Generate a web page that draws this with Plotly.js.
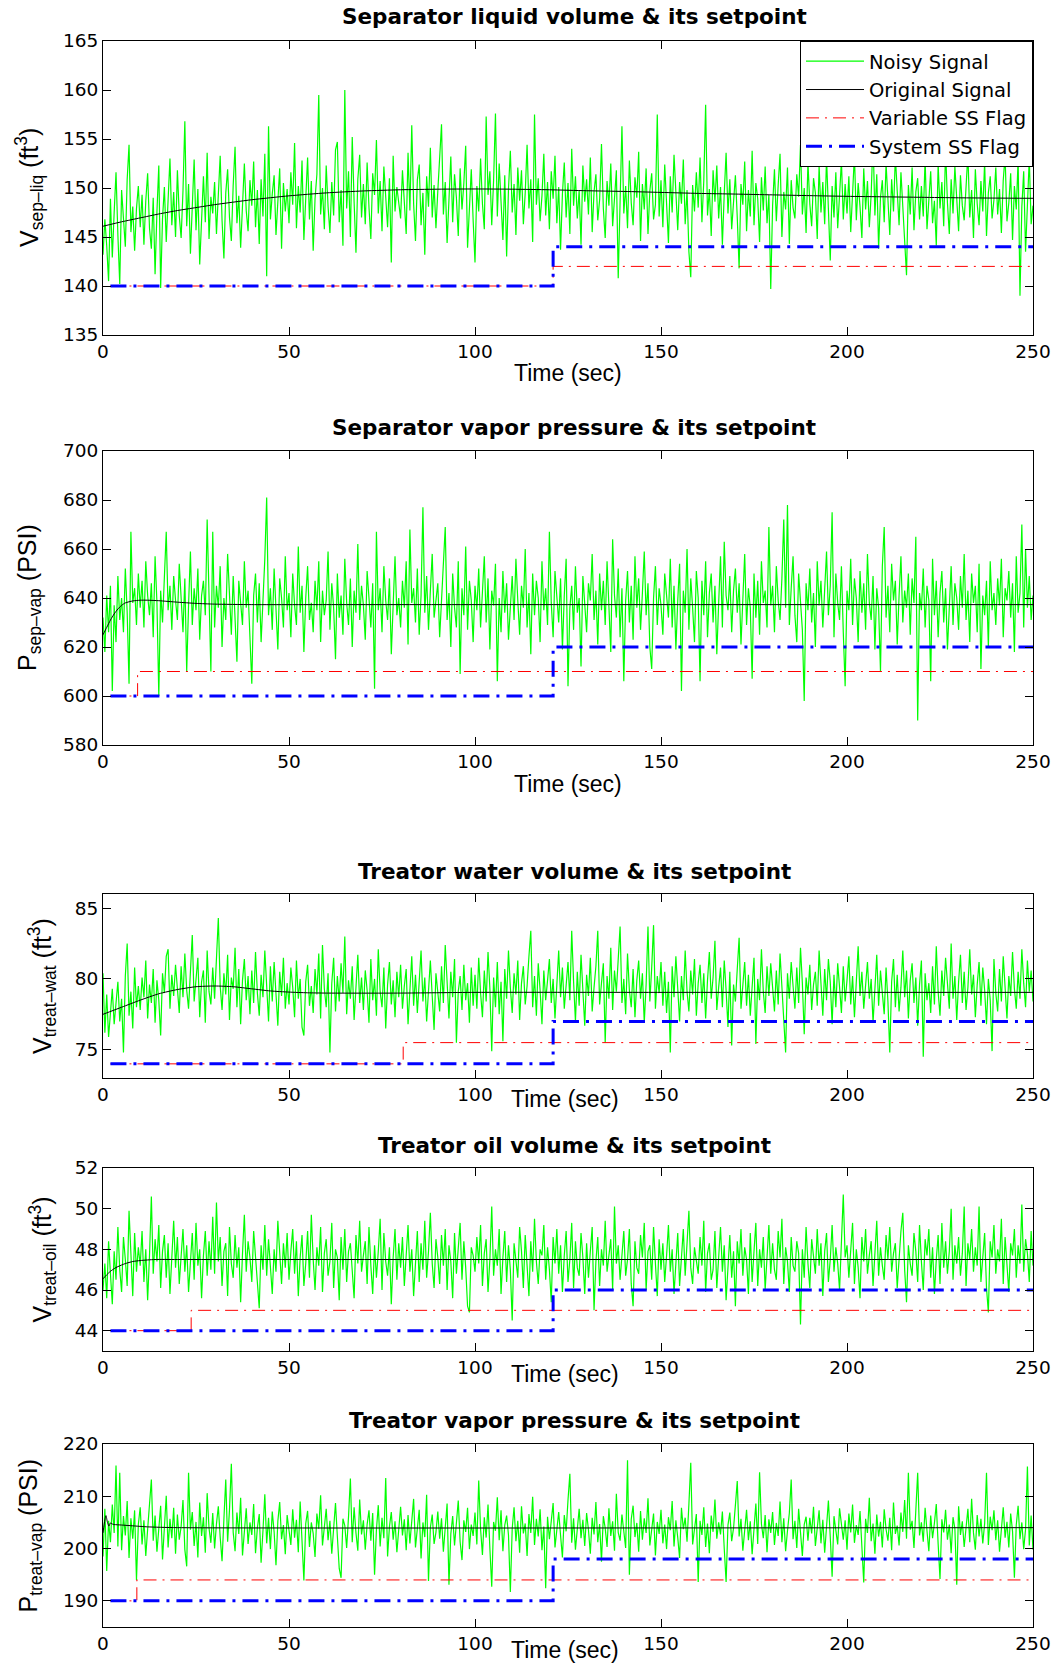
<!DOCTYPE html>
<html><head><meta charset="utf-8">
<script src="https://cdn.plot.ly/plotly-3.0.1.min.js"></script>
<style>html,body{margin:0;padding:0;background:#fff}#chart{width:1062px;height:1664px}</style>
</head><body><div id="chart"></div>
<script>
// ---------------- DATA ----------------
const timeStart = 0, timeEnd = 250; // seconds, noisy signals sampled evenly over this span

// Panel 1: Separator liquid volume (ft^3)
const sepLiqNoisy = [
143.2,146.8,144.1,140.5,148.9,142.9,147.5,151.6,145.2,140.2,149.8,146.3,144.0,150.9,154.4,145.5,148.1,143.6,147.9,150.2,
146.0,149.3,144.2,148.7,151.5,145.9,143.8,149.0,141.2,147.6,152.3,139.8,146.9,150.1,144.5,148.8,153.0,146.2,149.6,145.0,
151.8,147.2,144.9,149.7,156.8,146.1,150.4,143.3,148.6,152.9,145.7,149.9,142.2,147.8,151.2,146.5,153.6,144.8,149.1,147.4,
150.6,145.3,148.9,153.3,146.7,142.8,149.5,151.9,147.0,144.6,150.3,154.2,146.4,149.2,143.9,148.0,152.5,147.7,145.6,150.8,
148.2,152.7,146.0,149.8,144.3,150.9,147.1,153.5,141.0,156.3,146.8,149.4,151.3,145.2,148.7,152.0,143.8,150.5,147.6,149.9,
146.4,151.6,148.3,154.6,145.9,150.2,147.5,152.8,144.7,149.6,153.1,146.8,150.7,143.6,148.9,151.4,159.5,147.3,150.0,145.8,
152.3,148.1,145.4,150.6,147.2,153.9,154.7,146.5,149.8,144.1,160.0,147.9,151.7,145.0,155.2,148.6,143.4,150.9,153.4,147.0,
150.4,146.3,152.6,148.0,144.8,151.5,149.3,154.9,147.4,150.7,145.6,152.2,148.8,146.0,151.0,142.4,153.3,147.6,150.1,148.5,
146.9,151.8,149.0,145.3,153.6,147.7,156.4,148.4,144.6,150.8,152.4,146.2,149.5,143.2,151.2,148.1,154.1,147.0,150.3,145.9,
149.7,152.9,156.5,147.3,150.6,144.4,148.9,153.2,146.5,151.4,149.0,145.1,152.0,147.8,150.5,154.3,143.9,148.6,151.9,146.7,
142.4,150.2,147.6,153.0,148.4,145.8,157.3,149.3,151.7,146.2,150.8,157.6,147.1,152.5,148.0,144.7,151.3,143.0,149.9,153.8,
147.5,150.4,145.2,152.1,148.7,151.8,146.3,149.5,154.4,147.9,150.9,144.5,157.5,148.3,151.0,146.6,149.2,153.5,147.2,150.6,
145.8,151.7,148.9,153.3,146.4,150.1,143.7,149.4,152.6,147.0,150.5,145.3,154.0,148.2,151.2,146.9,149.8,144.2,152.3,148.6,
150.9,147.3,153.1,145.5,149.6,151.4,146.7,148.8,154.5,147.9,144.9,150.7,148.2,152.5,146.1,149.3,151.8,140.8,148.7,156.3,
147.4,150.2,145.9,152.8,148.5,146.2,151.1,149.0,153.7,144.6,150.4,147.8,152.0,145.3,149.7,151.5,146.8,148.3,157.5,147.1,
150.8,146.0,152.4,148.1,144.4,151.2,147.5,153.4,149.2,145.7,150.6,148.4,152.9,146.3,149.8,143.5,140.9,150.3,147.6,151.6,
148.0,153.1,146.5,150.7,158.5,147.2,149.9,145.1,151.8,148.6,152.3,146.9,150.1,144.2,149.4,153.6,147.4,150.9,145.8,149.0,
151.3,147.0,141.8,150.4,148.3,152.7,145.6,149.8,147.1,153.8,146.2,150.5,148.9,144.5,151.1,147.7,152.2,146.4,149.3,139.7,
148.2,151.9,146.6,150.3,153.5,145.0,149.6,147.8,152.1,144.3,150.8,148.0,146.9,151.4,149.1,154.4,147.3,150.0,145.4,152.6,
148.4,146.1,151.0,149.5,144.8,152.3,147.5,150.6,146.3,153.1,148.7,142.6,150.2,147.0,151.6,145.9,149.3,152.8,146.8,150.4,
147.4,151.2,145.5,149.9,153.4,146.7,150.5,148.1,144.9,152.0,147.8,150.7,146.0,149.4,155.1,147.2,151.4,143.8,149.0,150.8,
146.5,152.5,148.3,145.2,150.9,147.6,153.2,149.1,146.2,151.6,148.0,144.4,141.1,150.3,147.3,152.1,145.7,149.6,151.0,146.8,
150.2,147.1,153.0,145.8,149.3,151.7,146.4,148.7,144.1,152.4,147.9,150.6,146.1,154.0,148.5,145.3,150.9,147.4,152.2,149.0,
145.6,151.3,148.2,146.7,150.4,153.5,147.0,149.8,144.9,151.9,148.4,146.2,150.7,147.6,152.7,145.1,149.5,151.2,146.9,148.8,
152.1,147.3,149.9,145.4,150.8,153.3,146.6,148.5,151.5,144.7,150.2,147.8,152.9,139.0,148.1,151.7,143.5,149.4,153.0,146.3,
148.2];
const sepLiqOrigTime = [0,5,10,15,20,25,30,40,50,60,70,80,90,100,110,120,130,140,150,160,170,180,190,200,210,220,230,240,250];
const sepLiqOrig = [146.1,146.55,146.95,147.35,147.7,148.0,148.3,148.8,149.2,149.5,149.7,149.82,149.88,149.9,149.88,149.82,149.72,149.65,149.55,149.45,149.38,149.3,149.22,149.15,149.1,149.05,149.0,148.97,148.95];
const sepLiqVarFlagTime = [2,121,250];
const sepLiqVarFlag = [140,142,142];
const sepLiqSysFlagTime = [2,121,250];
const sepLiqSysFlag = [140,144,144];

// Panel 2: Separator vapor pressure (PSI)
const sepVapNoisy = [
632,618,641,626,645,602,637,622,649,631,640,626,652,634,605,667,638,644,629,650,
636,647,628,655,641,633,646,624,657,638,600,643,630,651,667,635,645,627,649,639,
631,654,642,626,648,610,637,659,629,644,635,652,623,641,647,633,672,639,610,667,
628,645,636,653,620,640,631,658,642,625,649,634,614,647,638,629,655,636,643,624,
605,641,650,630,646,622,639,656,681,633,644,627,652,636,619,648,640,628,657,635,
642,624,650,637,629,661,634,645,618,640,653,631,638,626,647,635,655,622,643,633,
639,659,627,646,636,615,650,632,641,625,656,638,629,648,620,643,634,662,631,645,
637,623,651,640,628,646,603,667,635,644,626,653,639,631,648,617,642,657,633,640,
628,647,636,655,621,668,638,644,630,652,625,641,677,634,649,627,643,658,632,639,
646,624,638,653,669,631,642,620,650,636,628,655,609,644,633,661,627,647,639,622,
645,635,652,628,641,657,630,648,619,643,637,654,606,640,626,651,634,646,623,638,
649,631,656,639,625,645,636,660,628,642,617,650,633,647,640,622,655,635,644,629,
667,638,624,651,642,630,648,619,641,656,604,636,645,627,653,634,640,612,649,637,
626,646,639,658,631,643,621,650,635,647,629,655,638,618,664,641,632,652,624,644,
606,639,651,630,645,623,657,636,648,627,642,659,633,646,620,611,640,653,629,644,
637,625,650,641,632,656,628,645,619,639,654,602,643,634,660,627,648,636,622,651,
640,606,647,633,655,624,642,650,630,645,617,638,657,628,663,641,635,649,626,643,
652,634,646,621,640,658,629,644,636,607,650,632,647,625,655,638,643,628,669,637,
645,626,653,639,631,648,672,636,678,629,644,657,633,622,650,640,627,598,646,635,
652,630,642,620,655,637,647,628,641,659,633,645,675,624,650,638,631,653,626,604,
643,635,656,629,648,640,622,651,634,646,627,658,638,631,649,619,644,636,610,653,
669,632,645,626,654,639,647,621,641,657,630,643,636,650,625,648,638,665,590,642,
635,652,628,645,639,606,656,633,647,624,642,651,630,644,619,637,653,629,646,640,
627,649,636,658,631,643,622,650,638,645,626,654,611,641,633,647,620,655,635,642,
629,648,637,656,624,644,639,651,632,646,618,657,634,642,670,628,660,636,649,631,
641];
const sepVapOrigTime = [0,1,2,3,4,5,6,8,10,12,15,20,25,30,40,60,100,150,200,250];
const sepVapOrig = [625,628,631,633.5,635.5,637,638,638.8,639.1,639.1,638.9,638.3,637.8,637.5,637.3,637.3,637.3,637.3,637.3,637.3];
const sepVapVarFlagTime = [2,9.3,250];
const sepVapVarFlag = [600,610,610];
const sepVapSysFlagTime = [2,121,250];
const sepVapSysFlag = [600,620,620];

// Panel 3: Treator water volume (ft^3)
const treatWatNoisy = [
80.4,76.2,78.9,75.9,77.6,79.3,76.8,78.1,79.8,77.0,78.6,74.8,80.2,82.5,77.4,79.1,76.5,80.8,78.0,79.5,
77.8,80.1,78.7,81.3,77.2,79.6,78.3,80.7,76.9,79.9,78.5,76.0,80.4,79.0,81.6,82.1,77.9,80.3,78.8,81.0,
79.4,77.6,80.9,78.7,81.8,79.2,77.9,80.5,83.1,78.4,80.0,81.5,77.3,79.8,80.6,76.9,82.0,79.1,78.2,80.8,
78.6,81.2,84.3,79.5,77.8,80.4,78.9,81.7,77.1,80.1,79.3,82.2,78.0,80.7,76.8,79.9,81.4,78.5,80.2,77.5,
80.6,78.3,81.9,79.0,77.4,80.3,78.7,82.0,79.6,77.0,80.9,78.4,81.2,79.1,76.7,80.5,78.8,81.5,77.9,79.7,
78.2,80.8,79.4,77.3,81.3,78.6,80.0,76.6,76.0,79.8,81.0,78.1,79.5,77.6,80.7,78.9,81.8,77.2,82.4,79.3,
78.0,80.4,74.8,79.7,81.5,77.7,80.2,78.4,81.1,79.0,83.0,77.5,79.9,78.6,80.9,77.1,79.4,81.7,78.3,80.1,
77.8,80.6,79.2,76.9,81.4,78.5,80.0,77.4,82.1,79.1,78.0,80.8,76.5,79.6,81.2,78.2,79.9,77.3,80.5,78.7,
81.0,77.9,79.5,80.7,76.8,79.0,81.6,78.1,80.3,77.6,79.8,82.0,78.4,80.1,77.0,79.3,81.3,78.8,76.4,80.4,
79.2,77.7,80.9,78.3,82.4,79.6,77.2,80.5,78.7,81.4,75.5,79.1,80.2,77.8,81.0,78.5,79.7,76.9,80.8,78.1,
80.3,77.9,81.5,79.0,77.3,80.6,78.4,81.9,79.3,74.9,80.1,78.0,81.2,77.5,79.8,75.6,80.7,78.6,82.0,79.4,
77.6,80.4,78.9,81.3,77.1,79.7,80.9,78.2,79.5,81.6,83.4,78.0,80.2,77.4,81.1,79.2,76.8,80.6,78.5,79.9,
81.4,78.3,80.0,77.2,79.6,82.0,78.7,80.8,77.9,79.3,81.2,78.5,83.4,79.8,77.0,80.5,78.1,81.7,79.0,76.7,
80.3,78.8,81.5,77.7,79.4,80.9,83.4,78.2,79.7,81.1,75.5,80.2,78.6,82.2,77.8,80.6,79.1,81.4,83.7,78.3,
80.0,77.5,81.8,79.2,78.0,80.7,77.3,79.9,81.3,78.6,80.4,76.9,79.6,83.7,78.4,80.8,83.8,77.9,80.2,79.0,
81.2,78.1,80.5,77.6,79.8,74.8,80.9,78.7,81.6,79.3,77.0,80.2,78.5,82.0,79.1,77.7,80.6,78.9,81.4,77.4,
79.7,81.0,78.3,80.4,77.2,79.9,81.9,78.6,80.1,82.7,77.8,79.4,80.8,78.0,81.3,79.2,76.6,80.5,75.3,79.6,
78.4,80.7,82.9,77.9,79.5,81.2,78.1,80.3,77.4,79.8,81.5,75.4,80.0,78.5,82.1,79.1,77.6,80.9,78.8,81.1,
79.3,77.7,80.6,78.2,81.8,79.0,77.1,74.8,80.4,78.6,81.2,79.5,77.9,80.8,78.3,82.2,79.7,76.1,80.1,78.9,
81.0,77.8,79.6,80.5,78.1,82.0,79.2,77.4,80.7,78.5,81.4,79.8,76.8,80.3,78.0,81.1,79.4,77.6,80.9,78.4,
79.9,81.6,78.2,80.2,77.3,79.7,82.3,78.8,80.5,77.9,79.3,81.2,78.6,80.0,76.9,79.5,81.7,78.1,80.6,79.0,
77.5,80.8,78.4,74.8,79.8,81.4,78.0,80.3,77.7,79.4,82.0,78.7,80.6,77.2,79.9,81.1,78.3,80.1,76.7,79.6,
81.3,74.5,80.4,78.5,79.7,77.6,80.9,78.2,82.3,79.1,77.4,80.6,78.8,81.5,79.3,77.9,82.5,78.6,80.2,77.1,
79.8,81.7,78.3,80.5,77.8,79.4,82.1,78.9,80.3,77.3,79.6,81.2,78.1,80.8,79.2,76.8,80.0,78.5,74.9,81.4,
79.0,77.7,80.7,78.4,81.6,79.5,77.2,80.2,78.8,81.9,79.3,77.9,80.5,78.6,82.1,79.7,78.0,81.3,79.1,80.6,
78.4];
const treatWatOrigTime = [0,5,10,15,20,25,30,35,40,45,50,55,60,80,100,150,200,250];
const treatWatOrig = [77.5,78.0,78.5,78.95,79.25,79.45,79.5,79.45,79.3,79.15,79.07,79.02,79.0,79.0,79.05,79.05,79.05,79.05];
const treatWatVarFlagTime = [2,80.7,250];
const treatWatVarFlag = [74,75.5,75.5];
const treatWatSysFlagTime = [2,121,250];
const treatWatSysFlag = [74,77,77];

// Panel 4: Treator oil volume (ft^3)
const treatOilNoisy = [
46.0,47.3,45.6,48.4,46.8,45.3,47.9,46.5,49.1,47.0,45.9,48.6,47.5,46.2,49.9,47.8,45.7,48.8,46.9,48.1,
47.2,48.9,46.4,48.0,45.5,47.7,50.6,46.8,48.5,47.4,49.2,46.1,47.9,48.7,46.6,48.3,45.8,47.6,49.4,47.1,
48.6,46.3,47.8,49.0,46.9,48.2,45.9,47.5,48.8,46.5,49.3,47.2,48.0,45.6,47.7,48.9,46.7,48.4,47.0,49.6,
46.8,50.3,47.4,48.6,46.2,47.9,48.3,45.7,49.1,47.3,46.6,48.7,47.1,48.1,45.4,47.8,49.7,46.9,48.4,47.6,
46.4,48.9,47.5,46.0,45.1,48.2,47.0,49.2,46.7,48.5,47.3,45.8,48.0,46.9,49.4,47.7,46.3,48.3,47.1,48.8,
46.5,47.9,49.0,46.8,48.4,45.7,47.6,48.7,46.2,47.3,48.9,46.6,49.7,47.5,46.0,48.1,47.2,49.1,45.9,47.8,
48.5,46.7,47.4,49.3,46.1,48.0,47.6,45.5,48.6,47.0,49.0,46.4,47.9,48.3,46.8,45.6,48.7,47.3,49.4,46.9,
47.7,48.4,46.3,49.1,47.2,45.8,48.2,46.6,47.9,49.5,46.0,48.8,47.4,46.7,48.1,45.3,47.6,49.0,46.5,48.3,
47.1,48.6,46.2,47.8,49.2,46.9,48.0,45.7,47.5,48.9,46.4,48.3,47.0,49.4,46.6,47.9,49.8,47.3,46.1,48.5,
47.6,46.3,48.7,47.2,49.0,46.0,48.2,47.4,45.6,48.8,46.8,47.9,49.3,46.5,48.4,47.1,45.2,44.9,48.1,47.7,
46.9,48.6,47.3,49.2,46.2,47.8,48.5,45.9,47.5,50.1,46.7,48.0,47.2,49.0,45.8,47.6,48.9,46.4,48.2,47.0,
44.5,48.3,47.5,46.6,49.1,47.9,46.1,48.7,47.2,45.7,48.4,46.9,49.5,47.4,46.3,48.0,47.7,49.2,46.5,48.1,
47.0,45.4,48.6,47.3,49.0,46.8,48.2,45.9,47.7,48.9,46.4,47.5,49.3,46.1,48.4,47.1,46.7,48.8,47.6,45.8,
48.3,46.6,47.9,49.1,45.0,47.4,48.6,46.2,48.0,47.2,49.4,46.9,47.7,48.5,46.0,50.1,47.3,48.2,46.5,47.8,
48.9,46.7,47.5,49.0,46.3,45.2,48.4,47.1,46.8,48.7,47.6,49.3,46.0,47.9,48.2,46.5,49.1,47.3,45.7,48.5,
47.0,48.3,46.4,47.7,49.2,46.9,48.0,45.8,47.4,48.8,46.2,47.6,49.0,46.7,48.5,49.9,47.1,46.3,48.1,47.5,
46.8,48.6,47.2,49.4,45.9,47.8,48.3,46.5,47.0,48.9,46.1,47.6,49.1,46.9,48.2,45.5,47.4,48.7,46.6,47.9,
45.2,48.4,47.3,49.0,46.7,48.1,47.5,45.8,48.8,46.4,47.9,49.3,46.2,48.0,47.1,48.6,46.0,47.7,49.2,46.8,
48.3,47.0,46.5,48.9,47.6,49.5,46.3,48.1,47.4,45.9,48.6,47.2,46.9,48.4,47.8,44.3,48.0,46.6,49.1,47.3,
46.1,48.5,47.7,46.8,49.0,47.2,48.3,45.7,47.9,48.8,46.4,47.5,49.2,46.9,48.1,47.3,46.0,48.7,50.7,47.6,
48.2,46.6,47.8,49.3,46.3,48.0,47.1,45.6,48.6,47.4,49.0,46.8,47.7,48.4,46.2,47.9,49.4,46.7,48.1,47.2,
46.5,48.7,47.5,49.1,46.9,47.8,48.3,46.1,47.6,48.9,49.8,47.0,45.4,48.2,47.3,46.7,48.8,47.9,46.4,49.2,
47.4,46.0,48.5,47.7,49.0,46.6,48.1,45.8,47.5,48.7,46.3,49.3,47.1,48.4,46.8,47.9,50.0,46.5,48.2,47.3,
48.6,46.7,47.8,50.1,46.2,48.3,47.5,49.0,46.9,48.1,47.2,50.1,46.4,47.7,48.8,46.1,44.9,48.4,47.6,49.2,
46.8,48.0,47.4,49.5,46.3,48.6,47.1,45.9,48.3,47.7,49.0,46.6,48.2,47.3,50.2,46.9,48.5,47.8,46.4,48.9,
47.2];
const treatOilOrigTime = [0,1,2,3,4,6,8,10,14,20,250];
const treatOilOrig = [46.55,46.75,46.92,47.05,47.15,47.3,47.4,47.45,47.5,47.5,47.5];
const treatOilVarFlagTime = [2,23.7,250];
const treatOilVarFlag = [44,45,45];
const treatOilSysFlagTime = [2,121,250];
const treatOilSysFlag = [44,46,46];

// Panel 5: Treator vapor pressure (PSI)
const treatVapNoisy = [
198.5,207.6,195.7,205.3,201.2,208.4,203.0,215.9,200.4,214.5,199.7,206.2,202.5,209.1,198.2,205.8,201.9,207.3,194.0,204.6,
207.9,200.8,205.4,198.6,203.7,209.6,213.2,201.5,206.3,199.4,204.9,208.2,197.9,203.3,210.1,200.2,205.7,202.0,207.8,199.0,
206.5,201.7,204.2,209.3,199.8,196.6,214.5,203.6,207.0,200.5,205.1,198.3,208.8,202.4,206.0,199.2,210.6,203.9,201.1,206.8,
200.0,204.7,208.1,202.2,197.6,205.6,213.2,201.3,207.4,216.2,203.1,199.5,206.9,202.8,209.7,198.7,204.3,207.7,200.9,205.0,
202.6,208.5,199.1,204.0,206.6,197.3,203.4,210.4,201.0,205.9,199.9,207.1,203.2,196.8,205.2,208.9,201.8,204.5,198.9,206.4,
203.5,200.7,207.5,202.1,205.5,199.3,209.0,201.4,193.9,204.8,207.2,200.3,205.0,202.9,198.4,206.7,203.8,210.2,200.6,204.1,
207.6,201.6,205.3,199.0,203.9,208.7,202.3,196.2,194.4,205.7,204.4,200.1,206.1,213.4,201.2,207.9,203.0,199.6,209.4,202.7,
205.4,199.8,204.6,207.3,201.5,206.8,195.0,203.6,208.3,200.4,205.9,202.0,213.5,198.5,204.2,207.0,201.7,205.2,199.3,203.8,
208.0,202.5,205.6,199.7,206.4,201.0,204.7,209.5,200.2,203.5,207.4,198.1,205.0,202.2,210.3,193.8,204.0,206.5,200.9,203.1,
207.1,201.9,205.8,199.4,204.3,208.6,193.1,202.8,206.2,200.6,204.9,209.2,201.3,197.8,205.4,203.2,207.8,199.9,204.6,202.4,
206.9,200.8,213.0,203.7,198.8,206.0,202.1,208.4,200.0,192.7,205.1,203.4,209.8,201.6,207.3,199.5,204.5,206.3,202.6,191.7,
203.8,207.9,201.4,205.3,199.2,208.1,202.9,204.8,198.6,206.6,203.0,209.9,200.7,205.7,202.3,207.5,199.7,204.2,192.4,206.1,
201.8,205.0,208.7,200.2,204.4,207.0,202.5,198.3,206.4,203.3,209.3,214.3,201.1,205.8,199.8,204.0,207.6,202.0,205.5,200.5,
206.8,203.6,199.0,205.9,202.7,208.9,201.2,204.7,197.5,206.2,203.9,200.3,207.7,202.4,205.2,199.6,210.5,203.1,201.5,206.5,
203.4,200.1,216.9,195.0,205.6,208.2,202.2,204.9,199.4,207.2,201.7,205.8,203.0,209.6,200.6,204.3,206.7,198.7,205.1,202.8,
207.4,201.0,204.6,199.9,206.0,203.5,209.1,200.4,205.4,202.1,198.2,207.8,203.7,205.9,201.3,208.5,216.4,200.8,204.1,206.6,
193.6,205.3,202.6,207.9,200.3,204.8,199.1,206.3,203.2,209.4,201.9,205.0,202.7,207.1,200.0,193.6,204.5,206.9,201.4,203.9,
208.3,212.9,202.3,205.7,199.6,204.2,207.4,201.6,205.2,198.9,203.6,208.6,200.9,214.6,204.7,202.0,206.4,199.3,205.6,203.0,
207.0,200.7,204.9,202.4,209.0,201.2,205.8,199.5,203.4,206.8,213.2,201.8,205.3,200.1,207.6,203.3,198.6,204.6,206.1,201.5,
205.9,202.9,208.0,200.5,204.3,207.3,201.0,205.5,199.2,203.8,209.2,202.2,194.6,206.2,203.5,200.8,207.7,204.0,201.7,205.4,
199.8,206.7,203.1,208.4,201.1,204.5,202.6,207.2,200.4,193.5,205.7,203.0,209.7,201.4,204.8,199.0,206.5,202.3,205.1,200.2,
207.5,203.7,201.5,205.9,199.7,208.8,202.8,204.4,200.6,206.9,203.2,209.3,201.9,214.5,203.6,205.3,200.1,207.0,214.5,202.5,
205.0,201.3,207.8,203.4,199.5,206.3,202.0,204.9,208.5,200.9,194.2,205.6,203.1,207.4,201.7,204.6,199.1,206.0,203.8,193.1,
208.1,202.6,205.2,200.3,204.1,207.6,201.2,209.5,203.0,199.8,206.4,202.3,205.7,201.0,204.8,214.5,200.7,206.1,203.5,207.3,
201.6,205.4,199.4,203.9,207.9,202.1,205.1,200.2,206.7,203.3,194.4,204.5,208.2,201.8,205.0,199.9,203.7,215.7,200.6,206.3,
199.8];
const treatVapOrigTime = [0,0.5,0.8,1.2,1.6,2.0,2.5,3,5,8,12,20,250];
const treatVapOrig = [203,205.5,206.3,205,204.3,204.9,204.7,204.6,204.5,204.35,204.15,204.0,204.0];
const treatVapVarFlagTime = [2,9.1,250];
const treatVapVarFlag = [190,194,194];
const treatVapSysFlagTime = [2,121,250];
const treatVapSysFlag = [190,198,198];

// Text
const panelTitles = [
  'Separator liquid volume &amp; its setpoint',
  'Separator vapor pressure &amp; its setpoint',
  'Treator water volume &amp; its setpoint',
  'Treator oil volume &amp; its setpoint',
  'Treator vapor pressure &amp; its setpoint'
];
const yLabels = [
  'V<sub>sep\u2013liq</sub> (ft<sup>3</sup>)',
  'P<sub>sep\u2013vap</sub> (PSI)',
  'V<sub>treat\u2013wat</sub> (ft<sup>3</sup>)',
  'V<sub>treat\u2013oil</sub> (ft<sup>3</sup>)',
  'P<sub>treat\u2013vap</sub> (PSI)'
];
const xLabel = 'Time (sec)';
const seriesNames = ['Noisy Signal','Original Signal','Variable SS Flag','System SS Flag'];
const yRanges = [[135,165],[580,700],[73,86],[43,52],[185,220]];
const yTickStart = [135,580,75,44,190];
const yTickStep = [5,20,5,2,10];
const xTickVals = [0,50,100,150,200,250];

// ---------------- LAYOUT (pixel geometry) ----------------
const W = 1062, H = 1664;
const FONT = '"Liberation Sans", Arial, Helvetica, sans-serif';
const WIDEFONT = '"DejaVu Sans", Verdana, sans-serif';
const plotLeft = 103, plotRight = 1033;
const plotTops = [41, 451, 894, 1168, 1444];
const plotBottoms = [335, 745, 1078, 1351, 1627];
const titleY = [17, 428, 871, 1145, 1420];
const xLabelPos = [[568,373],[568,784],[565,1099],[565,1374],[565,1650]];
const yLabelX = [29, 29, 42, 42, 29];

const panels = [
  {noisy: sepLiqNoisy, ot: sepLiqOrigTime, o: sepLiqOrig, vt: sepLiqVarFlagTime, v: sepLiqVarFlag, st: sepLiqSysFlagTime, s: sepLiqSysFlag},
  {noisy: sepVapNoisy, ot: sepVapOrigTime, o: sepVapOrig, vt: sepVapVarFlagTime, v: sepVapVarFlag, st: sepVapSysFlagTime, s: sepVapSysFlag},
  {noisy: treatWatNoisy, ot: treatWatOrigTime, o: treatWatOrig, vt: treatWatVarFlagTime, v: treatWatVarFlag, st: treatWatSysFlagTime, s: treatWatSysFlag},
  {noisy: treatOilNoisy, ot: treatOilOrigTime, o: treatOilOrig, vt: treatOilVarFlagTime, v: treatOilVarFlag, st: treatOilSysFlagTime, s: treatOilSysFlag},
  {noisy: treatVapNoisy, ot: treatVapOrigTime, o: treatVapOrig, vt: treatVapVarFlagTime, v: treatVapVarFlag, st: treatVapSysFlagTime, s: treatVapSysFlag}
];

const px = x => x / W;
const py = y => 1 - y / H;

const traces = [];
const layout = {
  width: W, height: H,
  margin: {l: 0, r: 0, t: 0, b: 0, pad: 0},
  paper_bgcolor: '#fff', plot_bgcolor: '#fff',
  showlegend: true,
  hovermode: false,
  font: {family: FONT, color: '#000', size: 19},
  legend: {
    x: px(plotRight), xanchor: 'right', y: py(plotTops[0]), yanchor: 'top',
    xref: 'paper', yref: 'paper',
    bgcolor: '#fff', bordercolor: '#000', borderwidth: 1,
    font: {family: WIDEFONT, size: 19.5, color: '#000'},
    itemwidth: 58, tracegroupgap: 0, traceorder: 'normal'
  },
  annotations: []
};

panels.forEach((p, i) => {
  const n = i + 1;
  const xa = n === 1 ? 'x' : 'x' + n;
  const ya = n === 1 ? 'y' : 'y' + n;
  const N = p.noisy.length;
  const tNoisy = p.noisy.map((_, k) => timeStart + k * (timeEnd - timeStart) / (N - 1));
  const show = (i === 0);
  traces.push({x: tNoisy, y: p.noisy, xaxis: xa, yaxis: ya, type: 'scatter', mode: 'lines',
    name: seriesNames[0], showlegend: show, line: {color: '#00ff00', width: 1.2}});
  traces.push({x: p.ot, y: p.o, xaxis: xa, yaxis: ya, type: 'scatter', mode: 'lines',
    name: seriesNames[1], showlegend: show, line: {color: '#000000', width: 1, shape: 'spline', smoothing: 0.6}});
  traces.push({x: p.vt, y: p.v, xaxis: xa, yaxis: ya, type: 'scatter', mode: 'lines',
    name: seriesNames[2], showlegend: show, line: {color: '#ff0000', width: 1, shape: 'hv', dash: '13px,6px,2px,6px'}});
  traces.push({x: p.st, y: p.s, xaxis: xa, yaxis: ya, type: 'scatter', mode: 'lines',
    name: seriesNames[3], showlegend: show, line: {color: '#0000ff', width: 3, shape: 'hv', dash: '16px,7px,3px,7px'}});

  const axCommon = {
    showline: true, linecolor: '#000', linewidth: 1, mirror: 'ticks',
    ticks: 'inside', ticklen: 8, tickwidth: 1, tickcolor: '#000',
    showgrid: false, zeroline: false, fixedrange: true,
    tickfont: {family: WIDEFONT, size: 18.5, color: '#000'}
  };
  layout['xaxis' + (n === 1 ? '' : n)] = Object.assign({}, axCommon, {
    domain: [px(plotLeft), px(plotRight)], anchor: ya, range: [timeStart, timeEnd],
    tickmode: 'array', tickvals: xTickVals, ticktext: xTickVals.map(String)
  });
  layout['yaxis' + (n === 1 ? '' : n)] = Object.assign({}, axCommon, {
    domain: [py(plotBottoms[i]), py(plotTops[i])], anchor: xa, range: yRanges[i],
    tickmode: 'linear', tick0: yTickStart[i], dtick: yTickStep[i]
  });

  layout.annotations.push({
    text: '<b>' + panelTitles[i] + '</b>', xref: 'paper', yref: 'paper',
    x: px(574), y: py(titleY[i]), xanchor: 'center', yanchor: 'middle', showarrow: false,
    font: {family: WIDEFONT, size: 21.5, color: '#000'}
  });
  layout.annotations.push({
    text: xLabel, xref: 'paper', yref: 'paper',
    x: px(xLabelPos[i][0]), y: py(xLabelPos[i][1]), xanchor: 'center', yanchor: 'middle', showarrow: false,
    font: {family: FONT, size: 23, color: '#000'}
  });
  layout.annotations.push({
    text: yLabels[i], xref: 'paper', yref: 'paper', textangle: -90,
    x: px(yLabelX[i]), y: py((plotTops[i] + plotBottoms[i]) / 2), xanchor: 'center', yanchor: 'middle', showarrow: false,
    font: {family: FONT, size: 25, color: '#000'}
  });
});

Plotly.newPlot('chart', traces, layout, {displayModeBar: false, staticPlot: true});
</script>
</body></html>
